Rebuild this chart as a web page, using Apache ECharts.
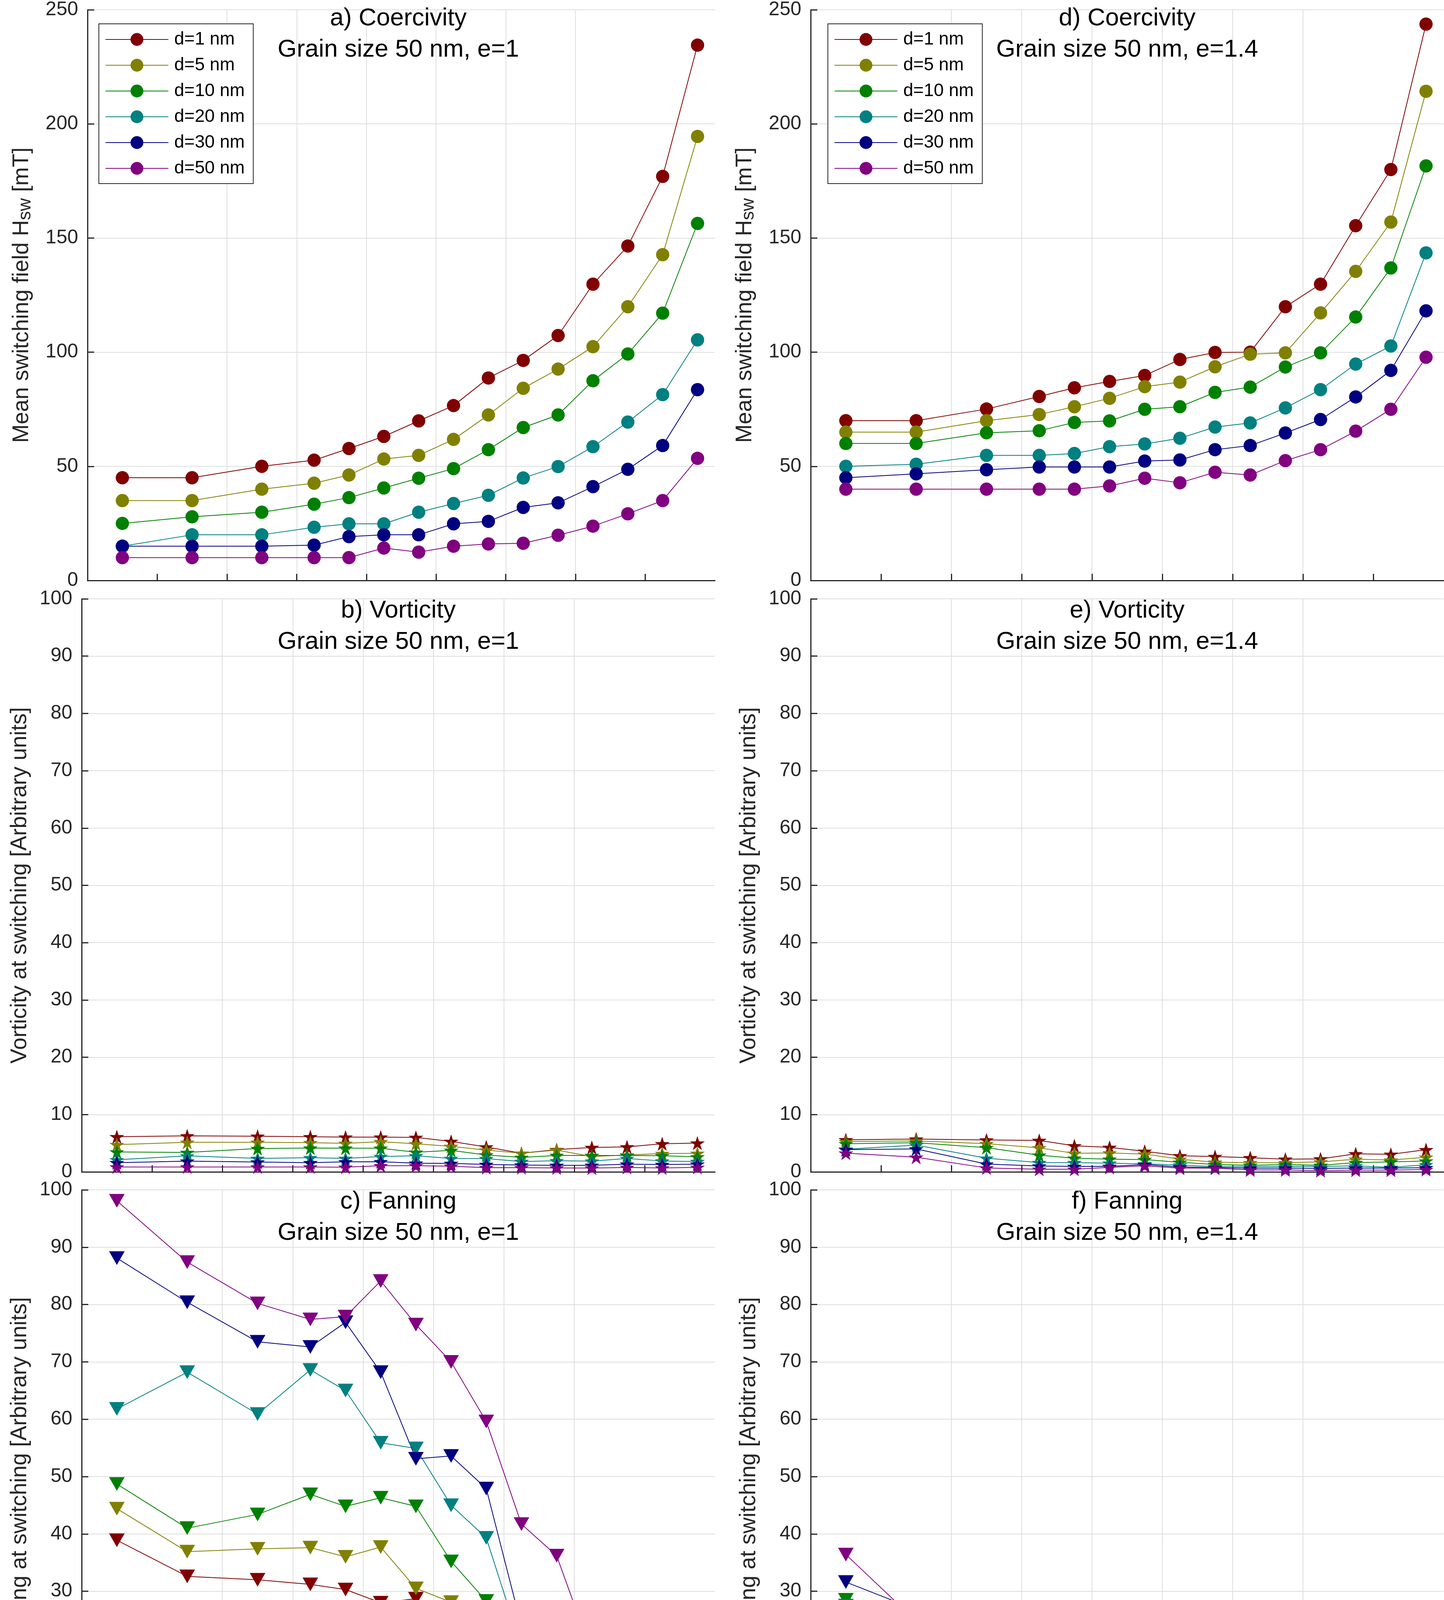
<!DOCTYPE html>
<html>
<head>
<meta charset="utf-8">
<script src="https://cdn.jsdelivr.net/npm/echarts@6/dist/echarts.min.js"></script>
<style>
    html, body { margin: 0; padding: 0; background: #fff; }
    #chart { width: 3696px; height: 4680px; }
</style>
</head>
<body>
<div id="chart"></div>
<script>
// ---- data -----------------------------------------------------------
var angles = [5, 15, 25, 32.5, 37.5, 42.5, 47.5, 52.5, 57.5, 62.5, 67.5, 72.5, 77.5, 82.5, 87.5];
var names = ['d=1 nm', 'd=5 nm', 'd=10 nm', 'd=20 nm', 'd=30 nm', 'd=50 nm'];
var colors = ['#800000', '#808000', '#008000', '#008080', '#000080', '#800080'];
var xTickValues = [10, 20, 30, 40, 50, 60, 70, 80];
var xTickNames = { 10: 'Parallel', 80: 'Perpendic.' };

// a) coercivity, e=1 (one row per thickness d)
var coercivityE1 = [
    [45, 45, 50, 52.7, 57.8, 63.1, 69.9, 76.6, 88.7, 96.4, 107.3, 129.8, 146.5, 177, 234.5],
    [35, 35, 40, 42.6, 46.2, 53.2, 54.8, 61.8, 72.5, 84.2, 92.6, 102.4, 119.9, 142.7, 194.5],
    [25, 27.9, 29.9, 33.4, 36.3, 40.5, 44.8, 49.0, 57.3, 67.0, 72.5, 87.5, 99.2, 117.1, 156.4],
    [15, 20, 20, 23.3, 24.8, 24.8, 29.9, 33.7, 37.3, 44.9, 49.9, 58.6, 69.4, 81.4, 105.4],
    [15, 15, 15, 15.5, 19.2, 20, 20, 24.8, 25.9, 32.0, 34.0, 41.1, 48.7, 59.1, 83.6],
    [10, 10, 10, 10, 10, 14.2, 12.4, 15.0, 16.0, 16.3, 19.8, 23.8, 29.2, 35.0, 53.5]
];
// d) coercivity, e=1.4
var coercivityE14 = [
    [70, 70, 75.1, 80.6, 84.4, 87.2, 89.8, 96.8, 99.9, 100, 119.9, 129.8, 155.4, 180, 243.7],
    [65, 65, 70, 72.7, 76.1, 79.8, 84.9, 86.9, 93.6, 99.1, 99.7, 117.2, 135.4, 157.0, 214.3],
    [60, 60, 64.7, 65.6, 69.2, 69.9, 75.0, 76.1, 82.4, 84.7, 93.5, 99.7, 115.4, 136.9, 181.6],
    [50, 50.9, 54.8, 54.8, 55.6, 58.6, 59.8, 62.3, 67.2, 69.0, 75.6, 83.6, 94.8, 102.7, 143.5],
    [45, 46.7, 48.5, 49.7, 49.7, 49.7, 52.3, 52.8, 57.3, 59.1, 64.6, 70.5, 80.4, 92.0, 118.1],
    [40, 40, 40, 40, 40, 41.4, 44.8, 42.8, 47.4, 46.2, 52.5, 57.3, 65.4, 75.0, 97.8]
];
// b) vorticity, e=1
var vorticityE1 = [
    [6.13, 6.29, 6.22, 6.13, 6.06, 6.06, 6.02, 5.31, 4.35, 3.25, 3.89, 4.26, 4.37, 4.90, 5.03],
    [4.76, 5.17, 5.17, 5.10, 4.97, 5.26, 4.90, 4.44, 3.80, 3.25, 3.80, 2.68, 2.95, 3.20, 3.23],
    [3.48, 3.39, 4.07, 4.16, 4.14, 4.12, 3.43, 3.75, 2.95, 2.52, 2.86, 2.86, 2.86, 2.81, 2.63],
    [2.11, 2.79, 2.36, 2.47, 2.36, 2.68, 2.81, 2.33, 2.31, 1.81, 1.95, 1.88, 2.33, 1.90, 1.81],
    [1.60, 1.88, 1.72, 1.60, 1.76, 1.78, 1.51, 1.49, 1.30, 1.19, 1.14, 1.14, 1.35, 1.28, 1.35],
    [0.85, 0.85, 0.85, 0.85, 0.82, 1.08, 1.08, 0.98, 0.73, 0.73, 0.69, 0.66, 0.76, 0.69, 0.78]
];
// e) vorticity, e=1.4
var vorticityE14 = [
    [5.61, 5.72, 5.58, 5.49, 4.55, 4.28, 3.59, 2.81, 2.68, 2.47, 2.22, 2.27, 3.16, 3.07, 3.87],
    [5.29, 5.40, 4.92, 4.19, 3.23, 3.30, 3.11, 2.22, 1.69, 1.60, 1.60, 1.74, 2.22, 2.06, 2.56],
    [4.90, 5.10, 4.23, 2.91, 2.38, 2.22, 2.15, 1.67, 1.30, 1.14, 1.30, 1.14, 1.62, 1.74, 1.90],
    [3.96, 4.67, 2.38, 1.62, 1.62, 1.51, 1.40, 1.19, 0.92, 0.92, 0.96, 0.96, 1.05, 0.78, 1.24],
    [3.89, 4.00, 1.37, 1.03, 0.96, 0.96, 1.28, 0.85, 0.76, 0.64, 0.66, 0.62, 0.66, 0.66, 0.73],
    [3.27, 2.56, 0.69, 0.46, 0.46, 0.78, 1.05, 0.64, 0.64, 0.34, 0.34, 0.23, 0.30, 0.30, 0.41]
];
// c) fanning, e=1
var fanningE1 = [
    [38.9, 32.6, 32.0, 31.2, 30.3, 28.0, 28.7, 23.6, 15.6, 12.9, 12.5, 10.7, 10.4, 9.1, 8.2],
    [44.4, 36.9, 37.4, 37.6, 36.0, 37.7, 30.5, 28.1, 22.8, 16.1, 16.8, 10.4, 9.9, 9.0, 8.0],
    [48.7, 41.0, 43.4, 46.9, 44.8, 46.3, 44.8, 35.2, 28.3, 15.8, 17.5, 11.9, 11.2, 8.8, 8.1],
    [61.8, 68.2, 60.9, 68.6, 65.0, 55.9, 54.9, 45.0, 39.3, 20.2, 21.8, 13.2, 13.6, 9.3, 8.5],
    [88.1, 80.4, 73.5, 72.6, 76.9, 68.2, 53.1, 53.6, 47.9, 23.9, 27.2, 13.9, 16.1, 9.6, 9.0],
    [98.1, 87.4, 80.2, 77.4, 77.9, 84.1, 76.5, 70.0, 59.6, 41.7, 36.2, 19.2, 23.1, 9.5, 9.2]
];
// f) fanning, e=1.4
var fanningE14 = [
    [17.6, 15.3, 13.5, 14.4, 12.8, 12.0, 9.6, 10.0, 9.1, 8.5, 10.4, 9.4, 10.0, 9.3, 9.0],
    [22.3, 18.6, 14.8, 13.6, 12.6, 12.6, 11.9, 10.6, 10.3, 10.4, 9.0, 9.7, 9.9, 9.0, 8.1],
    [28.5, 22.6, 16.1, 13.5, 12.8, 12.1, 11.2, 10.7, 10.4, 10.3, 10.0, 9.6, 9.7, 9.3, 8.6],
    [27.5, 22.1, 14.8, 13.0, 12.4, 11.8, 11.0, 10.9, 10.6, 10.6, 10.4, 10.1, 10.1, 9.4, 9.0],
    [31.6, 26.8, 15.0, 13.2, 12.3, 11.6, 10.9, 11.0, 11.0, 11.0, 10.6, 10.6, 10.3, 9.7, 9.4],
    [36.4, 24.8, 12.0, 11.6, 11.2, 11.0, 10.7, 10.7, 10.4, 10.3, 10.3, 10.1, 10.0, 9.9, 10.0]
];

// ---- layout / style --------------------------------------------------
var FONT = '"Liberation Sans", Arial, Helvetica, sans-serif';
var AXIS_COLOR = '#262626';
var GRID_COLOR = '#dedede';
var STAR = 'path://M50 0L61.23 34.55L97.55 34.55L68.17 55.9L79.39 90.45L50 69.1L20.61 90.45L31.83 55.9L2.45 34.55L38.77 34.55Z';

var cols = [{ left: 209, width: 1621 }, { left: 2075, width: 1620 }];
var rows = [{ top: 17, height: 1469 }, { top: 1533, height: 1467 }, { top: 3046, height: 1468 }];

var hswName = '{m|Mean switching field H}{s|sw}{m| [mT]}';
var nameRich = {
    m: { fontSize: 57, lineHeight: 60, verticalAlign: 'top', fontFamily: FONT, color: AXIS_COLOR },
    s: { fontSize: 46, lineHeight: 46, padding: [41, 0, 0, 0], verticalAlign: 'bottom', fontFamily: FONT, color: AXIS_COLOR }
};

var panels = [
    { col: 0, row: 0, title: 'a) Coercivity\nGrain size 50 nm, e=1', values: coercivityE1, ymax: 250, step: 50, yname: hswName, kind: 'circle' },
    { col: 0, row: 1, title: 'b) Vorticity\nGrain size 50 nm, e=1', values: vorticityE1, ymax: 100, step: 10, yname: 'Vorticity at switching [Arbitrary units]', kind: 'star' },
    { col: 0, row: 2, title: 'c) Fanning\nGrain size 50 nm, e=1', values: fanningE1, ymax: 100, step: 10, yname: 'Fanning at switching [Arbitrary units]', kind: 'tri', bottom: true },
    { col: 1, row: 0, title: 'd) Coercivity\nGrain size 50 nm, e=1.4', values: coercivityE14, ymax: 250, step: 50, yname: hswName, kind: 'circle' },
    { col: 1, row: 1, title: 'e) Vorticity\nGrain size 50 nm, e=1.4', values: vorticityE14, ymax: 100, step: 10, yname: 'Vorticity at switching [Arbitrary units]', kind: 'star' },
    { col: 1, row: 2, title: 'f) Fanning\nGrain size 50 nm, e=1.4', values: fanningE14, ymax: 100, step: 10, yname: 'Fanning at switching [Arbitrary units]', kind: 'tri', bottom: true }
];

var grids = [], xAxes = [], yAxes = [], titles = [], series = [];

panels.forEach(function (p, gi) {
    var c = cols[p.col], r = rows[p.row];
    grids.push({ left: c.left, top: r.top, width: c.width, height: r.height, containLabel: false });

    titles.push({
        text: p.title,
        left: c.left + c.width / 2,
        top: r.top - 9.5,
        textAlign: 'center',
        padding: 0,
        textStyle: { fontFamily: FONT, fontSize: 63, fontWeight: 'normal', color: '#000', lineHeight: 80 }
    });

    xAxes.push({
        type: 'value', gridIndex: gi, min: 0, max: 90, interval: 10,
        name: p.bottom ? 'Angle' : '',
        nameLocation: 'middle', nameGap: 103,
        nameTextStyle: { fontFamily: FONT, fontSize: 57, color: AXIS_COLOR },
        axisLine: { show: true, onZero: false, lineStyle: { color: AXIS_COLOR, width: 3 } },
        axisTick: { show: true, inside: true, length: 17, customValues: xTickValues, lineStyle: { color: AXIS_COLOR, width: 3 } },
        axisLabel: {
            show: !!p.bottom, margin: 32, customValues: xTickValues,
            fontFamily: FONT, fontSize: 50, color: AXIS_COLOR,
            formatter: function (v) {
                if (v <= 0 || v >= 90) return '';
                return xTickNames[v] || String(v);
            }
        },
        splitLine: { show: true, showMinLine: false, showMaxLine: false, lineStyle: { color: GRID_COLOR, width: 2 } }
    });

    var isRich = p.yname === hswName;
    yAxes.push({
        type: 'value', gridIndex: gi, min: 0, max: p.ymax, interval: p.step,
        name: p.yname, nameLocation: 'middle', nameGap: isRich ? 136 : 129,
        nameTextStyle: isRich ? { rich: nameRich, fontFamily: FONT, fontSize: 57, color: AXIS_COLOR }
                              : { fontFamily: FONT, fontSize: 57, color: AXIS_COLOR, lineHeight: 57 },
        axisLine: { show: true, lineStyle: { color: AXIS_COLOR, width: 3 } },
        axisTick: { show: true, inside: true, length: 17, lineStyle: { color: AXIS_COLOR, width: 3 } },
        axisLabel: { margin: 24, fontFamily: FONT, fontSize: 50, color: AXIS_COLOR },
        splitLine: { show: true, showMinLine: false, showMaxLine: true, lineStyle: { color: GRID_COLOR, width: 2 } }
    });

    p.values.forEach(function (vals, k) {
        var s = {
            type: 'line', name: names[k],
            xAxisIndex: gi, yAxisIndex: gi,
            data: angles.map(function (a, i) { return [a, vals[i]]; }),
            showAllSymbol: true,
            lineStyle: { width: 2, color: colors[k] },
            itemStyle: { color: colors[k], borderWidth: 0 },
            emphasis: { disabled: true },
            silent: true
        };
        if (p.kind === 'circle') {
            s.symbol = 'circle'; s.symbolSize = 34;
        } else if (p.kind === 'star') {
            s.symbol = STAR; s.symbolSize = [38, 36];
        } else {
            s.symbol = 'triangle'; s.symbolSize = [40, 35]; s.symbolRotate = 180;
        }
        series.push(s);
    });
});

function legendAt(left) {
    return {
        data: names, orient: 'vertical', left: left, top: 61,
        itemWidth: 161, itemHeight: 41, itemGap: 20,
        padding: [17, 22, 16, 16],
        backgroundColor: '#fff', borderColor: AXIS_COLOR, borderWidth: 2,
        selectedMode: false,
        textStyle: { fontFamily: FONT, fontSize: 46, color: '#000', padding: [0, 0, 0, 10] }
    };
}

var chart = echarts.init(document.getElementById('chart'), null, { renderer: 'canvas' });
chart.setOption({
    animation: false,
    backgroundColor: '#fff',
    title: titles,
    legend: [legendAt(253), legendAt(2119)],
    grid: grids,
    xAxis: xAxes,
    yAxis: yAxes,
    series: series
});
</script>
</body>
</html>
